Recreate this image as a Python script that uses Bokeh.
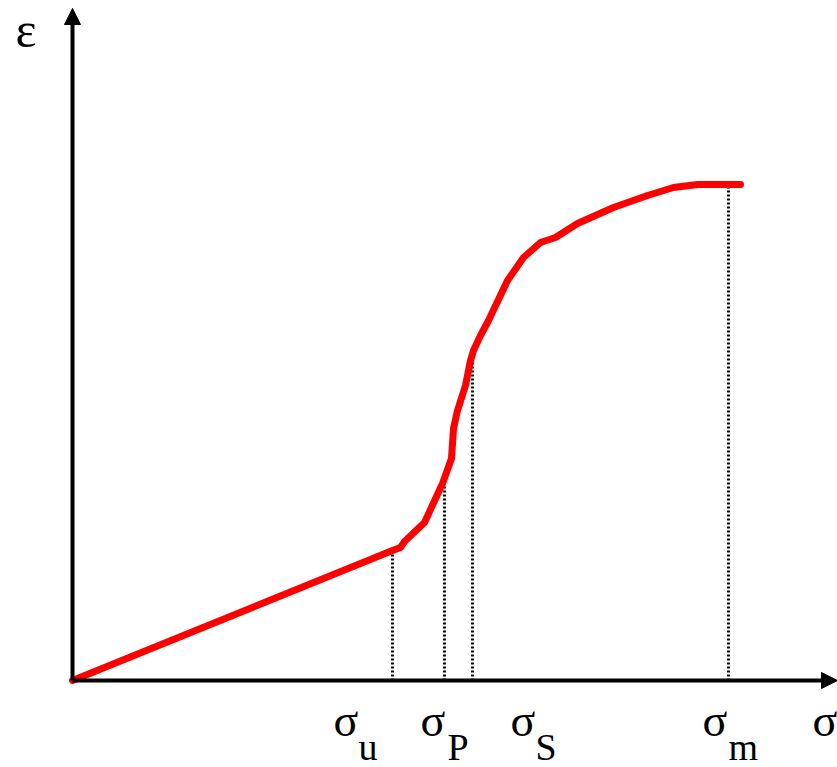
from bokeh.plotting import figure
from bokeh.models import Range1d, Arrow, NormalHead, ColumnDataSource
from bokeh.core.properties import value
from bokeh.embed import file_html
from bokeh.resources import INLINE

# stress (sigma) vs strain (epsilon) curve, arbitrary units
sigma = [0, 320, 328, 332, 352, 370, 379, 381, 385, 393, 398, 401, 408, 416,
         435, 451, 468, 483, 505, 541, 575, 601, 625, 668]
epsilon = [0, 130, 133, 139, 158, 197, 222, 252, 270, 295, 320, 330, 345, 360,
           400, 423, 438, 443, 457, 473, 485, 493, 496, 496]

# characteristic points
key_sigma = [320, 372, 400, 656]
key_eps = [130, 208, 321, 496]
key_main = ["σ", "σ", "σ", "σ"]
key_sub = ["u", "P", "S", "m"]

# label placement (layout)
main_x = [261, 348, 438, 630, 740]
sub_x = [286, 375, 463, 656]

FONT = "Liberation Serif"

p = figure(width=837, height=767, output_backend="svg", toolbar_location=None,
           x_range=Range1d(-72, 765), y_range=Range1d(-87, 680), min_border=0)
p.axis.visible = False
p.grid.visible = False
p.outline_line_color = None
p.background_fill_color = "white"
p.border_fill_color = "white"

# dotted drop lines
p.segment(x0=key_sigma, y0=[0] * 4, x1=key_sigma, y1=key_eps,
          line_color="black", line_width=3, line_dash="2 2")

# curve
p.line(sigma, epsilon, line_color="#ff0000", line_width=7, line_join="round", line_cap="round")

# axes arrows
p.add_layout(Arrow(x_start=0, y_start=0, x_end=765, y_end=0, line_width=4, line_color="black",
                   end=NormalHead(size=16, fill_color="black", line_color="black")))
p.add_layout(Arrow(x_start=0, y_start=0, x_end=0, y_end=672, line_width=4, line_color="black",
                   end=NormalHead(size=16, fill_color="black", line_color="black")))

# labels
main_src = ColumnDataSource(dict(x=main_x, y=[-40] * 5, t=key_main + ["σ"]))
p.text(x="x", y="y", text="t", source=main_src, text_font=value(FONT),
       text_font_size="46px", text_baseline="alphabetic", text_align="left", text_color="black")
sub_src = ColumnDataSource(dict(x=sub_x, y=[-66] * 4, t=key_sub))
p.text(x="x", y="y", text="t", source=sub_src, text_font=value(FONT),
       text_font_size="38px", text_baseline="alphabetic", text_align="left", text_color="black")
p.text(x=[-57], y=[651], text=["ε"], text_font=value(FONT), text_font_size="50px",
       text_baseline="alphabetic", text_align="left", text_color="black")

open("out.html", "w").write(file_html(p, INLINE))
